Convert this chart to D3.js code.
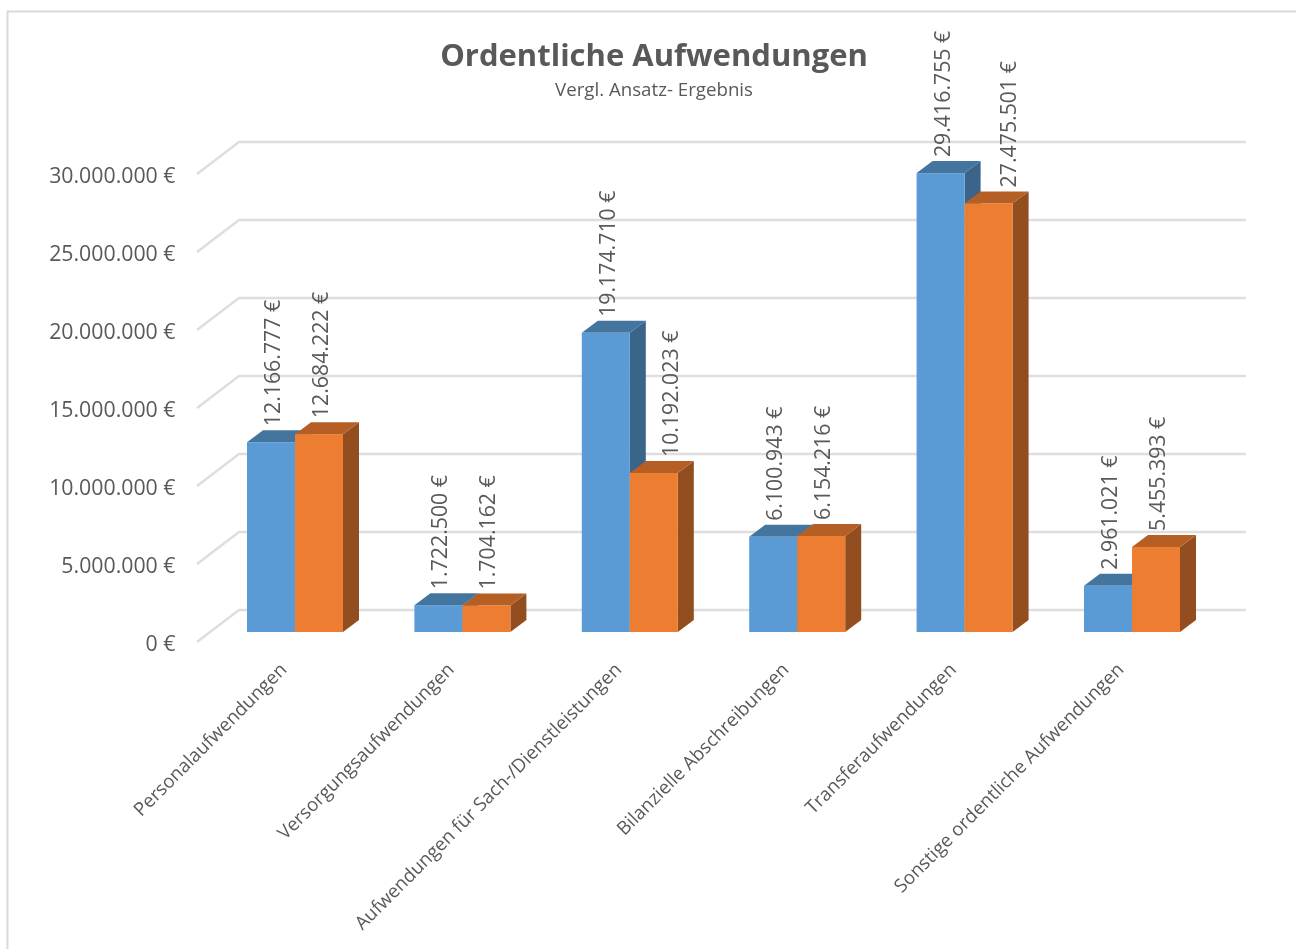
<!DOCTYPE html>
<html lang="de">
<head>
<meta charset="UTF-8">
<script src="https://d3js.org/d3.v7.min.js"></script>
<title>Ordentliche Aufwendungen</title>
<style>
  html, body { margin: 0; padding: 0; background: #fff; }
  svg { display: block; filter: blur(0.4px); }
  text { font-family: "Open Sans", sans-serif; fill: #595959; }
</style>
</head>
<body>
<svg id="chart" width="1296" height="949"></svg>
<script>
const categories = [
  "Personalaufwendungen",
  "Versorgungsaufwendungen",
  "Aufwendungen für Sach-/Dienstleistungen",
  "Bilanzielle Abschreibungen",
  "Transferaufwendungen",
  "Sonstige ordentliche Aufwendungen"
];
const seriesNames = ["Ansatz", "Ergebnis"];
const ansatz = [12166777, 1722500, 19174710, 6100943, 29416755, 2961021];
const ergebnis = [12684222, 1704162, 10192023, 6154216, 27475501, 5455393];
const yTicks = [0, 5000000, 10000000, 15000000, 20000000, 25000000, 30000000];

const colors = {
  Ansatz: { front: "#5b9bd5", top: "#44759f", side: "#3a6489" },
  Ergebnis: { front: "#ed7d31", top: "#b65f25", side: "#934e1f" }
};

const svg = d3.select("#chart");

// frame of the chart area
svg.append("path")
  .attr("d", "M7.5,949V11.5H1296")
  .attr("fill", "none")
  .attr("stroke", "#d9d9d9")
  .attr("stroke-width", 2);

svg.append("text").attr("x", 654).attr("y", 66)
  .attr("text-anchor", "middle")
  .style("font-size", "31px").style("font-weight", 700)
  .text("Ordentliche Aufwendungen");
svg.append("text").attr("x", 654).attr("y", 96)
  .attr("text-anchor", "middle")
  .style("font-size", "18.7px")
  .text("Vergl. Ansatz- Ergebnis");

// y runs along the front plane of the bars
const y = d3.scaleLinear().domain([0, 30000000]).range([632, 164]);
const x = d3.scaleBand().domain(categories).range([247, 1180]).paddingInner(0.4265);
const xSeries = d3.scaleBand().domain(seriesNames).range([0, x.bandwidth()]);

// 3d offsets
const barDx = 16, barDy = -12;
const floorDy = 10;

// gridlines: short diagonal on the side wall, then along the back wall
svg.append("g").selectAll("path")
  .data(yTicks)
  .join("path")
  .attr("d", d => {
    const p = d3.path();
    p.moveTo(197, y(d) + floorDy);
    p.lineTo(239, y(d) + floorDy - 32);
    p.lineTo(1246, y(d) + floorDy - 32);
    return p.toString();
  })
  .attr("fill", "none")
  .attr("stroke", "#dedede")
  .attr("stroke-width", 2.5);

// y tick labels
const yAxis = d3.axisLeft(y)
  .tickValues(yTicks)
  .tickSize(0)
  .tickPadding(0)
  .tickFormat(d => d3.format(",")(d).replace(/,/g, ".") + " €");
const yAxisG = svg.append("g")
  .attr("transform", "translate(175.5,10.5)")
  .call(yAxis);
yAxisG.select(".domain").remove();
yAxisG.selectAll("text")
  .style("font-size", "21.3px")
  .attr("font-family", null)
  .attr("dy", "0.36em");

// bars, drawn per group so the orange bar overlaps the blue side
const rows = categories.map((c, i) => ({ c, values: [
  { name: seriesNames[0], value: ansatz[i] },
  { name: seriesNames[1], value: ergebnis[i] }
]}));

const groups = svg.append("g").selectAll("g")
  .data(rows)
  .join("g")
  .attr("transform", d => `translate(${x(d.c)},0)`);

const bars = groups.selectAll("g")
  .data(d => d.values)
  .join("g")
  .attr("transform", d => `translate(${xSeries(d.name)},0)`);

const w = xSeries.bandwidth();

// side face
bars.append("path")
  .attr("d", d => `M${w},${y(d.value)}L${w + barDx},${y(d.value) + barDy}L${w + barDx},${y(0) + barDy}L${w},${y(0)}Z`)
  .attr("fill", d => colors[d.name].side);
// top face
bars.append("path")
  .attr("d", d => `M0,${y(d.value)}L${barDx},${y(d.value) + barDy}L${w + barDx},${y(d.value) + barDy}L${w},${y(d.value)}Z`)
  .attr("fill", d => colors[d.name].top);
// front face
bars.append("rect")
  .attr("x", 0)
  .attr("y", d => y(d.value))
  .attr("width", w)
  .attr("height", d => y(0) - y(d.value))
  .attr("fill", d => colors[d.name].front);

// value labels, on top of all bars
// the two orange labels standing next to a taller blue bar sit further right
const labelNudge = d => (d.value === 10192023 ? 15 : d.value === 27475501 ? 18 : 0);
const labels = svg.append("g").selectAll("g")
  .data(rows)
  .join("g")
  .attr("transform", d => `translate(${x(d.c)},0)`);
labels.selectAll("text")
  .data(d => d.values)
  .join("text")
  .attr("transform", d => `translate(${xSeries(d.name) + w / 2 + 9 + labelNudge(d)},${y(d.value) - 16}) rotate(-90)`)
  .style("font-size", "21.3px")
  .text(d => d3.format(",")(d.value).replace(/,/g, ".") + " €");

// category labels
const xAxis = d3.axisBottom(x).tickSize(0).tickPadding(0);
const xAxisG = svg.append("g")
  .attr("transform", "translate(0,666)")
  .call(xAxis);
xAxisG.select(".domain").remove();
xAxisG.selectAll("text")
  .attr("font-family", null)
  .style("font-size", "18.7px")
  .attr("text-anchor", "end")
  .attr("dy", "0.36em")
  .attr("y", 0)
  .attr("transform", "translate(-12,0) rotate(-45)");
</script>
</body>
</html>
